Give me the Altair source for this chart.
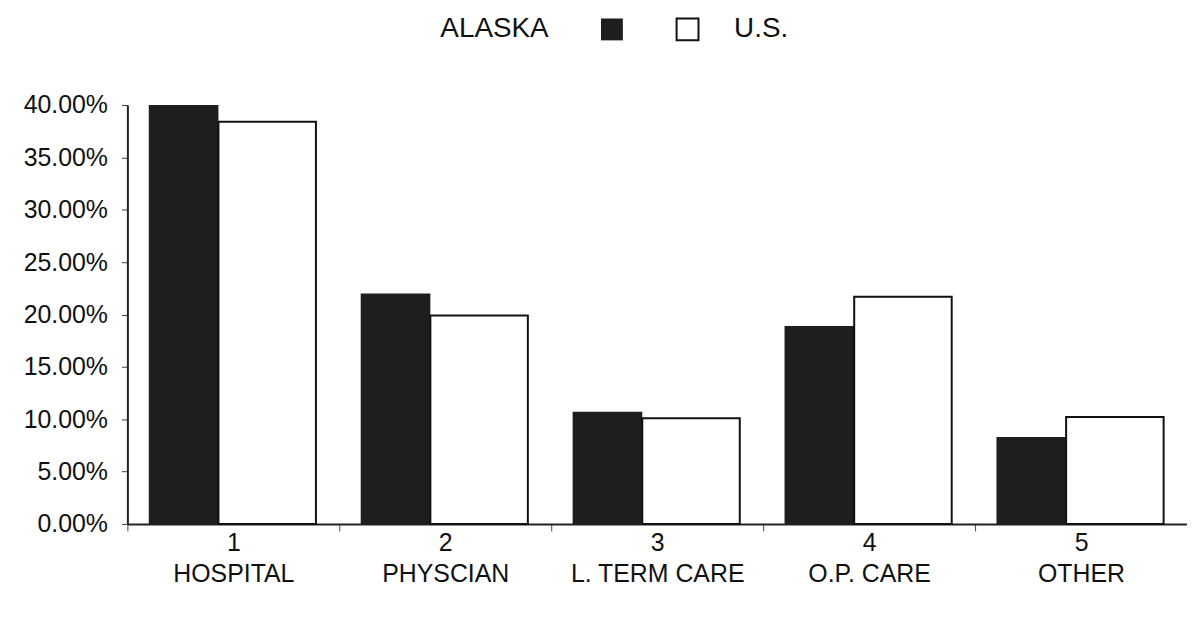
import altair as alt
import pandas as pd

nums = ["1", "2", "3", "4", "5"]
names = ["HOSPITAL", "PHYSCIAN", "L. TERM CARE", "O.P. CARE", "OTHER"]
alaska = [0.400, 0.220, 0.107, 0.189, 0.083]
us = [0.384, 0.199, 0.101, 0.217, 0.102]
series = ["ALASKA", "U.S."]

cats = [f"{n}|{m}" for n, m in zip(nums, names)]
df = pd.DataFrame({"cat": cats, "ALASKA": alaska, "US": us})

FONT = "Liberation Sans"

xenc = alt.X("cat:N", sort=cats, title=None,
             scale=alt.Scale(paddingInner=0, paddingOuter=0),
             axis=alt.Axis(labelExpr="split(datum.label, '|')", labelAngle=0,
                           labelFont=FONT, labelFontSize=25, labelColor="#111",
                           labelLineHeight=31, labelPadding=0, labelBaseline="top",
                           tickBand="extent", tickSize=7, tickColor="#444",
                           domainColor="#222", domainWidth=2, grid=False))
yscale = alt.Scale(domain=[0, 0.4], nice=False)
yaxis = alt.Axis(format=".2%", values=[i * 0.05 for i in range(9)],
                 labelFont=FONT, labelFontSize=25, labelColor="#111",
                 labelPadding=14, tickSize=6, tickColor="#444",
                 domainColor="#222", domainWidth=2, grid=False)

dark = alt.Chart(df).mark_bar(width=70, xOffset=-50, color="#1e1e1e").encode(
    x=xenc, y=alt.Y("ALASKA:Q", scale=yscale, axis=yaxis, title=None))
white = alt.Chart(df).mark_bar(width=98, xOffset=34, fill="white",
                               stroke="#111", strokeWidth=2).encode(
    x=xenc, y=alt.Y("US:Q", scale=yscale, axis=yaxis, title=None))

leg = pd.DataFrame({"s": series})
leg_a = alt.Chart(leg.iloc[[0]]).mark_text(font=FONT, fontSize=28, color="#111").encode(
    text="s:N", x=alt.value(369), y=alt.value(-76))
leg_u = alt.Chart(leg.iloc[[1]]).mark_text(font=FONT, fontSize=28, color="#111").encode(
    text="s:N", x=alt.value(637), y=alt.value(-76))
sq_d = alt.Chart(leg.iloc[[0]]).mark_square(size=484, color="#1e1e1e", opacity=1).encode(
    x=alt.value(487), y=alt.value(-76))
sq_w = alt.Chart(leg.iloc[[1]]).mark_square(size=484, fill="white", stroke="#111",
                                           strokeWidth=2, opacity=1).encode(
    x=alt.value(563), y=alt.value(-76))

chart = alt.layer(dark, white, leg_a, leg_u, sq_d, sq_w).properties(
    width=1065, height=421,
    background="white",
    autosize=alt.AutoSizeParams(type="none"),
    padding={"left": 120, "top": 96, "right": 0, "bottom": 86},
).configure_view(strokeWidth=0, stroke="transparent").configure_axis(grid=False)

chart.save("out.html", embed_options={"renderer": "svg", "actions": False})
